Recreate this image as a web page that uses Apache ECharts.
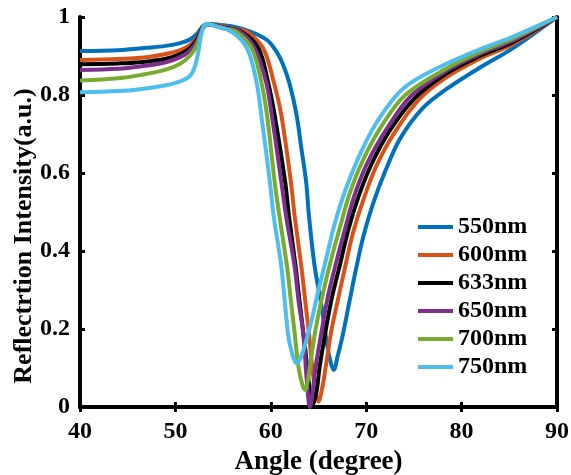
<!DOCTYPE html>
<html>
<head>
<meta charset="utf-8">
<script src="https://cdn.jsdelivr.net/npm/echarts@6/dist/echarts.min.js"></script>
<style>
  html, body { margin: 0; padding: 0; background: #fff; }
  #reflectChart { width: 571px; height: 475px; }
</style>
</head>
<body>
<div id="reflectChart"></div>
<script>
  // wavelengths shown in the legend
  var wavelengths = ['550nm', '600nm', '633nm', '650nm', '700nm', '750nm'];
  var lineColors = ['#0072BD', '#D95319', '#000000', '#7E2F8E', '#77AC30', '#4DBEEE'];
  var xTicks = [40, 50, 60, 70, 80, 90];
  var yTicks = [0, 0.2, 0.4, 0.6, 0.8, 1];

  // [angle, reflection]
  var r550 = [[40,0.913],[44,0.915],[47,0.921],[49,0.926],[50.5,0.933],[51.5,0.942],[52.2,0.955],[52.6,0.968],[53,0.979],[53.5,0.982],
    [55,0.979],[56.1,0.975],[57.8,0.963],[59.6,0.941],[60.6,0.911],[61.3,0.877],[62,0.826],[62.7,0.749],[63.2,0.664],[63.7,0.578],
    [64,0.49],[64.6,0.36],[65.3,0.262],[65.9,0.16],[66.3,0.112],[66.6,0.095],[67,0.13],[67.5,0.18],[68.2,0.265],[68.9,0.35],
    [69.7,0.437],[70.7,0.52],[72,0.605],[73.6,0.69],[76,0.768],[78.4,0.815],[81.9,0.87],[85.4,0.92],[90,1.0]];
  var r600 = [[40,0.890],[44,0.892],[47,0.897],[49,0.905],[50.5,0.915],[51.5,0.928],[52.2,0.945],[52.6,0.962],[53,0.978],[53.5,0.981],
    [55,0.976],[56.5,0.968],[57.5,0.962],[59.2,0.92],[60.3,0.834],[61.1,0.749],[62.1,0.578],[62.5,0.49],[63.2,0.36],[63.6,0.274],
    [64,0.189],[64.5,0.07],[65,0.014],[65.4,0.05],[65.8,0.11],[66.3,0.189],[66.9,0.26],[67.8,0.36],[68.6,0.445],[69.7,0.531],
    [71.1,0.62],[73,0.705],[75.6,0.79],[78.4,0.845],[81.9,0.893],[85.4,0.931],[90,1.0]];
  var r633 = [[40,0.879],[44,0.881],[46.3,0.884],[49,0.893],[50.5,0.905],[51.5,0.92],[52.2,0.94],[52.6,0.96],[53,0.977],[53.5,0.981],
    [55,0.973],[56.9,0.962],[58.7,0.92],[59.7,0.834],[60.4,0.749],[61.5,0.578],[61.9,0.49],[62.6,0.36],[63,0.274],[63.6,0.15],
    [64,0.06],[64.4,0.005],[64.8,0.04],[65.1,0.1],[65.7,0.189],[66.4,0.28],[67.3,0.37],[68.1,0.452],[69.2,0.54],[70.6,0.625],
    [72.5,0.71],[75.1,0.792],[78.4,0.855],[81.9,0.9],[85.4,0.936],[90,1.0]];
  var r650 = [[40,0.864],[44,0.867],[46.3,0.873],[49,0.884],[50.5,0.897],[51.5,0.913],[52.2,0.935],[52.6,0.957],[53,0.976],[53.5,0.981],
    [55,0.972],[56.8,0.962],[58.3,0.92],[59.5,0.834],[60.1,0.749],[61.1,0.578],[61.6,0.49],[62.5,0.36],[62.9,0.274],[63.4,0.189],
    [63.8,0.06],[64.1,0.0],[64.4,0.04],[64.7,0.103],[65.3,0.19],[66,0.285],[66.9,0.375],[67.8,0.458],[68.8,0.545],[70.2,0.63],
    [72.2,0.715],[74.6,0.795],[78.4,0.862],[81.9,0.905],[85.4,0.94],[90,1.0]];
  var r700 = [[40,0.837],[44,0.843],[46.3,0.851],[49,0.865],[50.5,0.88],[51.5,0.9],[52.2,0.925],[52.6,0.952],[53,0.975],[53.5,0.981],
    [55,0.971],[56.4,0.962],[58,0.92],[59,0.834],[59.6,0.749],[60.4,0.578],[60.9,0.49],[61.7,0.36],[62.1,0.274],[62.5,0.189],
    [62.9,0.103],[63.3,0.058],[63.6,0.044],[63.9,0.07],[64.2,0.12],[64.7,0.2],[65.5,0.295],[66.4,0.385],[67.3,0.465],[68.3,0.55],
    [69.7,0.635],[71.6,0.72],[74.1,0.8],[78.4,0.868],[81.9,0.91],[85.4,0.945],[90,1.0]];
  var r750 = [[40,0.807],[44,0.81],[46.3,0.815],[49,0.825],[50.5,0.835],[51.5,0.848],[52,0.87],[52.4,0.91],[52.7,0.955],[53,0.978],
    [53.4,0.982],[54,0.978],[55.9,0.962],[57.5,0.92],[58.5,0.834],[59,0.749],[59.9,0.578],[60.3,0.49],[61.1,0.36],[61.8,0.189],[62.2,0.14],
    [62.7,0.112],[63.2,0.13],[64.1,0.205],[65,0.3],[65.9,0.39],[66.7,0.47],[67.8,0.555],[69.2,0.64],[70.9,0.722],[73.2,0.8],
    [74.9,0.835],[78.4,0.88],[81.9,0.917],[85.4,0.95],[90,1.0]];
  var curves = [r550, r600, r633, r650, r700, r750];

  var fontFam = '"Liberation Serif", "Times New Roman", serif';
  var tickStyle = { show: true, inside: true, length: 5, lineStyle: { color: '#000', width: 3 } };
  var lineStyle = { lineStyle: { color: '#000', width: 4 } };

  var series = [];
  curves.forEach(function (d, i) {
    series.push({
      name: wavelengths[i],
      type: 'line',
      data: d,
      smooth: 0.35,
      showSymbol: false,
      lineStyle: { width: 4, color: lineColors[i] },
      itemStyle: { color: lineColors[i] }
    });
  });

  var option = {
    animation: false,
    backgroundColor: '#fff',
    grid: { left: 80, right: 14, top: 17, bottom: 68, containLabel: false, outerBoundsMode: 'none' },
    legend: {
      orient: 'vertical',
      left: 413,
      top: 210,
      icon: 'rect',
      itemWidth: 35,
      itemHeight: 4,
      itemGap: 4,
      data: wavelengths,
      textStyle: { fontFamily: fontFam, fontWeight: 'bold', fontSize: 24, lineHeight: 24, color: '#000' }
    },
    xAxis: [{
      type: 'value',
      min: xTicks[0],
      max: xTicks[xTicks.length - 1],
      interval: 10,
      name: 'Angle (degree)',
      nameLocation: 'middle',
      nameGap: 41,
      nameTextStyle: { fontFamily: fontFam, fontWeight: 'bold', fontSize: 27, color: '#000' },
      axisLine: lineStyle,
      axisTick: tickStyle,
      splitLine: { show: false },
      axisLabel: { margin: 13, showMinLabel: true, showMaxLabel: true, fontFamily: fontFam, fontWeight: 'bold', fontSize: 24, color: '#000' }
    }, {
      type: 'value',
      position: 'top',
      min: 40, max: 90, interval: 10,
      axisLine: lineStyle,
      axisTick: tickStyle,
      axisLabel: { show: false },
      splitLine: { show: false }
    }],
    yAxis: [{
      type: 'value',
      min: yTicks[0],
      max: yTicks[yTicks.length - 1],
      interval: 0.2,
      name: 'Reflectrtion Intensity(a.u.)',
      nameLocation: 'middle',
      nameGap: 43,
      nameMoveOverlap: false,
      nameTextStyle: { fontFamily: fontFam, fontWeight: 'bold', fontSize: 26, color: '#000', padding: [0, 48, 0, 0] },
      axisLine: lineStyle,
      axisTick: tickStyle,
      splitLine: { show: false },
      axisLabel: { margin: 10, fontFamily: fontFam, fontWeight: 'bold', fontSize: 24, color: '#000' }
    }, {
      type: 'value',
      position: 'right',
      min: 0, max: 1, interval: 0.2,
      axisLine: lineStyle,
      axisTick: tickStyle,
      axisLabel: { show: false },
      splitLine: { show: false }
    }],
    series: series
  };

  var myChart = echarts.init(document.getElementById('reflectChart'));
  myChart.setOption(option);
</script>
</body>
</html>
